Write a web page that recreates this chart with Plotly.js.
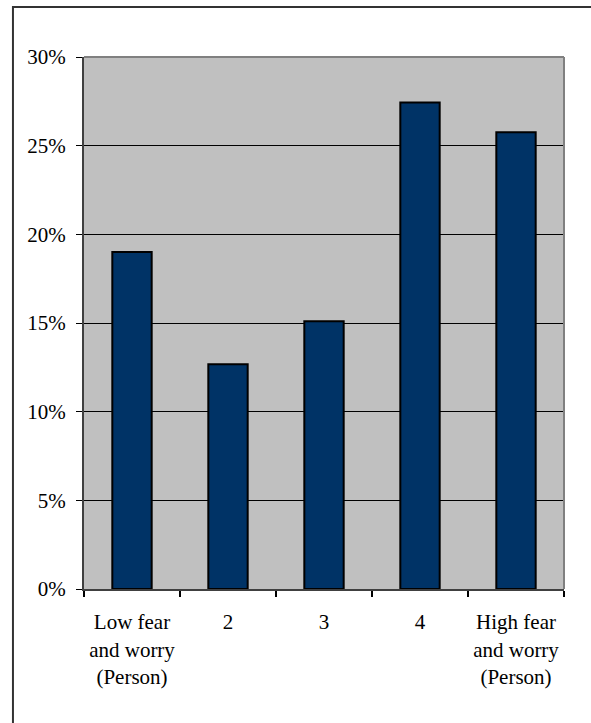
<!DOCTYPE html>
<html>
<head>
<meta charset="utf-8">
<script src="https://cdn.plot.ly/plotly-3.0.1.min.js"></script>
<style>html,body{margin:0;padding:0;background:#fff;}#chart{width:591px;height:723px;}</style>
</head>
<body>
<div id="chart"></div>
<script>
const categories = ["Low fear<br>and worry<br>(Person)", "2", "3", "4", "High fear<br>and worry<br>(Person)"];
const values = [0.190, 0.1267, 0.151, 0.2743, 0.2576];
const yTickVals = [0, 0.05, 0.10, 0.15, 0.20, 0.25, 0.30];
const yTickText = ["0%", "5%", "10%", "15%", "20%", "25%", "30%"];

const FONT = '"Times New Roman", "Liberation Serif", "DejaVu Serif", serif';

const trace = {
  type: "bar",
  x: categories,
  y: values,
  marker: {color: "#003366", line: {color: "#000000", width: 2}},
  hoverinfo: "none"
};

const layout = {
  width: 591, height: 723,
  margin: {l: 84, r: 27, t: 57, b: 134, pad: 0},
  paper_bgcolor: "#ffffff",
  plot_bgcolor: "#C0C0C0",
  showlegend: false,
  bargap: 0.59,
  font: {family: FONT, size: 21, color: "#000"},
  xaxis: {
    type: "category",
    tickson: "boundaries",
    ticks: "outside", ticklen: 6, tickwidth: 1.5, tickcolor: "#000",
    showline: true, linecolor: "#404040", linewidth: 2,
    showgrid: false, zeroline: false,
    ticklabelstandoff: 13,
    tickfont: {family: FONT, size: 21, color: "#000"}
  },
  yaxis: {
    range: [0, 0.30],
    tickvals: yTickVals, ticktext: yTickText,
    ticks: "outside", ticklen: 6, tickwidth: 1, tickcolor: "#000",
    showline: true, linecolor: "#404040", linewidth: 2,
    showgrid: true, gridcolor: "#000000", gridwidth: 1,
    zeroline: false,
    ticklabelstandoff: 6,
    tickfont: {family: FONT, size: 21, color: "#000"}
  },
  shapes: [
    {type: "line", xref: "paper", yref: "paper", x0: 0, x1: 1, y0: 1, y1: 1, line: {color: "#808080", width: 2}, layer: "above"},
    {type: "line", xref: "paper", yref: "paper", x0: 1, x1: 1, y0: 0, y1: 1, line: {color: "#808080", width: 2}, layer: "above"},
    {type: "rect", xref: "paper", yref: "paper", x0: -0.148, x1: 1.3, y0: -0.4, y1: 1.094, line: {color: "#333333", width: 2}, layer: "above"}
  ]
};

Plotly.newPlot("chart", [trace], layout, {staticPlot: true, displayModeBar: false});
</script>
</body>
</html>
